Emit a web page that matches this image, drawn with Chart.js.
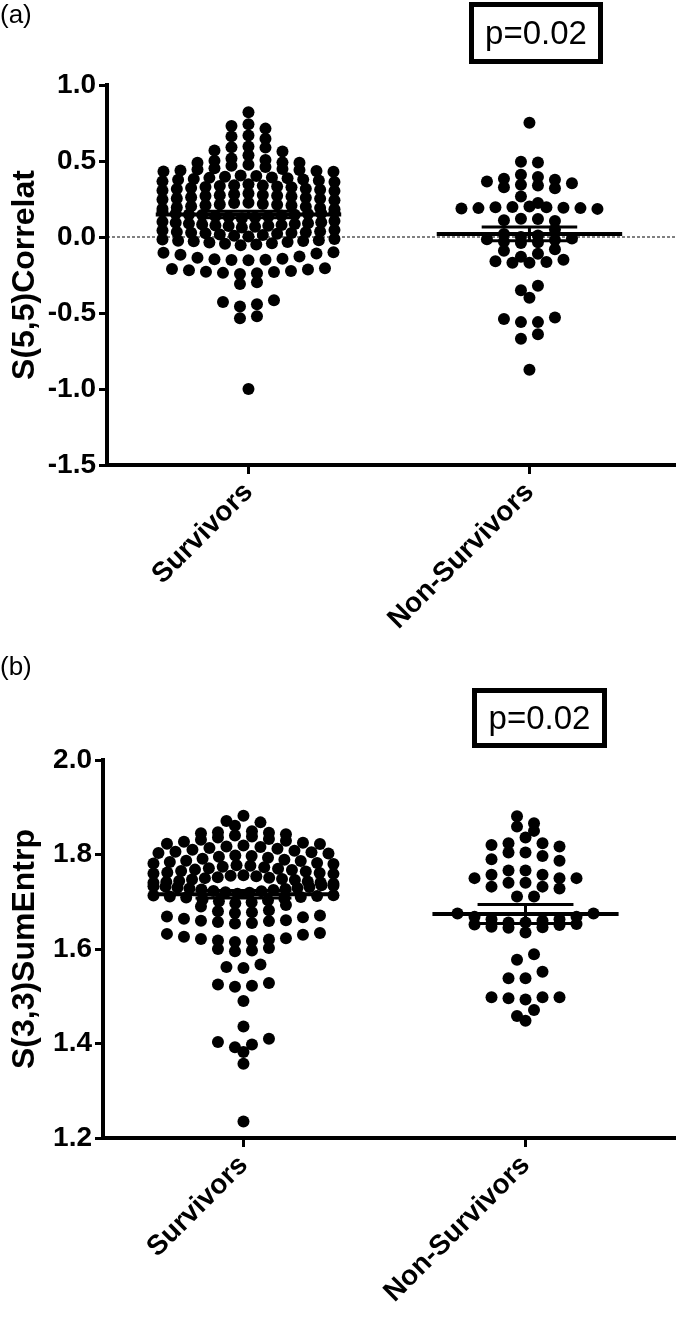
<!DOCTYPE html>
<html>
<head>
  <meta charset="UTF-8">
  <title>Survivors vs Non-Survivors</title>
  <script src="https://cdn.jsdelivr.net/npm/chart.js"></script>
  <style>
    body {
      margin: 0;
      background: #fff;
      font-family: "Liberation Sans", Arial, sans-serif;
    }
    #page {
      position: relative;
      width: 681px;
      height: 1320px;
    }
    .panel {
      position: absolute;
      left: 0;
      width: 681px;
    }
    .tag {
      position: absolute;
      left: 0;
      font-size: 26px;
      line-height: 28px;
    }
    .pbox {
      position: absolute;
      box-sizing: border-box;
      border: 5px solid #000;
      font-size: 33px;
      text-align: center;
    }
  </style>
</head>
<body>
<div id="page">
  <div class="panel" style="top:0;height:640px"><canvas id="chartA" width="681" height="640"></canvas></div>
  <div class="panel" style="top:640px;height:680px"><canvas id="chartB" width="681" height="680"></canvas></div>
  <div class="tag" style="top:0">(a)</div>
  <div class="pbox" style="left:469px;top:2px;width:134px;height:62px;line-height:52px">p=0.02</div>
  <div class="tag" style="top:652px">(b)</div>
  <div class="pbox" style="left:472px;top:688px;width:135px;height:60px;line-height:50px">p=0.02</div>
</div>

<script>
  // groups on the x axis
  const groups = ['Survivors', 'Non-Survivors'];

  // (a) S(5,5)Correlat, values
  const corrSurvivors = [
    0.82,
    0.742, 0.731, 0.713,
    0.667, 0.662, 0.646,
    0.596, 0.591, 0.588, 0.569, 0.563,
    0.538, 0.517, 0.506, 0.502, 0.491, 0.489, 0.488,
    0.476, 0.468, 0.461, 0.452, 0.447, 0.441, 0.438, 0.434, 0.431, 0.429, 0.444,
    0.404, 0.401, 0.396, 0.389, 0.387, 0.382, 0.379, 0.376, 0.371, 0.366, 0.362, 0.392,
    0.347, 0.341, 0.336, 0.333, 0.327, 0.322, 0.318, 0.316, 0.311, 0.306, 0.302, 0.329, 0.338,
    0.286, 0.281, 0.277, 0.271, 0.266, 0.262, 0.258, 0.254, 0.251, 0.246, 0.242, 0.269, 0.274,
    0.226, 0.223, 0.217, 0.212, 0.207, 0.203, 0.199, 0.194, 0.191, 0.186, 0.182, 0.209, 0.214,
    0.166, 0.162, 0.157, 0.153, 0.148, 0.144, 0.141, 0.137, 0.132, 0.128, 0.123, 0.151, 0.146, 0.134,
    0.106, 0.101, 0.097, 0.093, 0.088, 0.083, 0.079, 0.076, 0.072, 0.067, 0.063, 0.091, 0.086, 0.074,
    0.046, 0.042, 0.037, 0.033, 0.028, 0.024, 0.021, 0.017, 0.013, 0.008, 0.004, 0.031, 0.026,
    -0.013, -0.016, -0.021, -0.024, -0.028, -0.033, -0.036, -0.041, -0.045, -0.049, -0.054, -0.027,
    -0.101, -0.103, -0.109, -0.117, -0.128, -0.137, -0.143, -0.146, -0.149, -0.152, -0.153,
    -0.206, -0.211, -0.214, -0.219, -0.223, -0.228, -0.231, -0.236, -0.239, -0.244,
    -0.298, -0.309,
    -0.416, -0.428, -0.442, -0.458,
    -0.521, -0.534,
    -1.0
  ];
  const corrNonSurvivors = [
    0.751,
    0.495, 0.49,
    0.409, 0.394, 0.383, 0.376, 0.365, 0.354, 0.343, 0.339, 0.328, 0.321,
    0.267, 0.223, 0.201, 0.196,
    0.198, 0.195, 0.19, 0.188, 0.185, 0.19, 0.192,
    0.12, 0.11, 0.105, 0.118,
    0.05, 0.02,
    0.01, 0.0, -0.01, -0.02, -0.03, -0.035, -0.04, -0.015,
    -0.08, -0.09, -0.11, -0.13, -0.15, -0.16, -0.165, -0.17, -0.17,
    -0.32, -0.35, -0.40,
    -0.53, -0.54, -0.56, -0.56, -0.64, -0.67,
    -0.873
  ];
  const corrMean = [0.148, 0.02];
  const corrSem = [0.022, 0.045];
  const corrTicks = [-1.5, -1.0, -0.5, 0.0, 0.5, 1.0];

  // (b) S(3,3)SumEntrp
  const entrSurvivors = [
    1.882, 1.871, 1.868,
    1.861, 1.849, 1.847, 1.846, 1.845, 1.843,
    1.84, 1.838, 1.836, 1.833, 1.831, 1.829, 1.827, 1.825, 1.823, 1.822,
    1.819, 1.817, 1.816, 1.814, 1.812, 1.81, 1.808, 1.806, 1.805, 1.803, 1.802,
    1.798, 1.797, 1.795, 1.793, 1.791, 1.789, 1.787, 1.786, 1.784, 1.782, 1.781, 1.78,
    1.777, 1.776, 1.774, 1.773, 1.771, 1.77, 1.768, 1.767, 1.765, 1.764, 1.762, 1.761, 1.76, 1.759,
    1.756, 1.755, 1.754, 1.752, 1.751, 1.75, 1.748, 1.747, 1.746, 1.744, 1.743, 1.742, 1.741, 1.74, 1.738,
    1.735, 1.734, 1.733, 1.732, 1.731, 1.73, 1.729, 1.728, 1.727, 1.726, 1.725, 1.723, 1.722, 1.72, 1.719, 1.717,
    1.714, 1.713, 1.712, 1.711, 1.71, 1.709, 1.707, 1.705, 1.703, 1.701, 1.699, 1.697,
    1.693, 1.69, 1.682, 1.68, 1.678, 1.676,
    1.671, 1.669, 1.667, 1.664, 1.661, 1.659, 1.657, 1.655, 1.66, 1.654,
    1.634, 1.632, 1.63, 1.626, 1.623, 1.62, 1.618, 1.617, 1.615, 1.621,
    1.602, 1.6, 1.597, 1.595,
    1.567, 1.562, 1.56,
    1.528, 1.525, 1.522, 1.52,
    1.49, 1.436,
    1.41, 1.403, 1.398, 1.392,
    1.382, 1.357, 1.235
  ];
  const entrNonSurvivors = [
    1.881, 1.866, 1.859, 1.85, 1.836,
    1.824, 1.817, 1.82, 1.824,
    1.804, 1.79, 1.797, 1.804,
    1.787, 1.766,
    1.766, 1.74, 1.757, 1.732, 1.75, 1.75, 1.728, 1.75, 1.732, 1.757, 1.74,
    1.711, 1.711,
    1.675, 1.675,
    1.668, 1.663, 1.656, 1.651, 1.647, 1.635, 1.646, 1.653, 1.656, 1.663, 1.668,
    1.66, 1.652, 1.645,
    1.589, 1.577,
    1.552, 1.538, 1.538,
    1.498, 1.496, 1.493, 1.498, 1.498,
    1.471, 1.448, 1.458
  ];
  const entrMean = [1.716, 1.674];
  const entrSem = [0.008, 0.02];
  const entrTicks = [1.2, 1.4, 1.6, 1.8, 2.0];

  const FONT = '"Liberation Sans", Arial, sans-serif';
  const DOT_GAP = 17;     // px between dots in a row

  // Prism-like scatter: group values into rows, spread each row sideways,
  // the value farthest from the median sits in the middle
  function swarm(chart, values, cat, rowPx, maxHalf) {
    const ys = chart.scales.y;
    const xs = chart.scales.x;
    const unit = xs.getPixelForValue(cat + 1) - xs.getPixelForValue(cat);
    const sorted = values.slice().sort((a, b) => b - a);
    const mid = sorted[Math.floor(sorted.length / 2)];
    const rows = [];
    sorted.forEach(v => {
      const py = ys.getPixelForValue(v);
      const row = rows[rows.length - 1];
      if (row && py - row.top <= rowPx) row.vals.push(v);
      else rows.push({ top: py, vals: [v] });
    });
    const pts = [];
    rows.forEach(({ vals }) => {
      vals.sort((a, b) => Math.abs(b - mid) - Math.abs(a - mid));
      const n = vals.length;
      const step = n > 1 ? Math.min(DOT_GAP, 2 * maxHalf / (n - 1)) : 0;
      const slots = vals.map((v, i) => (i - (n - 1) / 2) * step)
        .sort((a, b) => Math.abs(a) - Math.abs(b) || a - b);
      vals.forEach((v, i) => pts.push({ x: cat + slots[i] / unit, y: v }));
    });
    return pts;
  }

  function seg(data, width) {
    return { data: data, showLine: true, borderColor: '#000', borderWidth: width, pointRadius: 0, order: 0 };
  }

  function makePanel(id, o) {
    const datasets = [];
    o.values.forEach((vals, i) => {
      datasets.push({
        data: vals.map(v => ({ x: i + 1, y: v })),
        backgroundColor: '#000', borderWidth: 0, pointRadius: 6, order: 2
      });
    });
    o.mean.forEach((m, i) => {
      const c = i + 1, s = o.sem[i];
      datasets.push(seg([{ x: c - 0.33, y: m }, { x: c + 0.33, y: m }], 4));
      datasets.push(seg([{ x: c - 0.17, y: m + s }, { x: c + 0.17, y: m + s }], 3));
      datasets.push(seg([{ x: c - 0.17, y: m - s }, { x: c + 0.17, y: m - s }], 3));
      datasets.push(seg([{ x: c, y: m - s }, { x: c, y: m + s }], 3));
    });
    if (o.zero) {
      datasets.push({
        data: [{ x: o.xMin, y: 0 }, { x: o.xMax, y: 0 }],
        showLine: true, borderColor: '#000', borderWidth: 1, borderDash: [3, 2],
        pointRadius: 0, order: 3
      });
    }

    const chart = new Chart(document.getElementById(id), {
      type: 'scatter',
      data: { datasets: datasets },
      options: {
        responsive: false,
        animation: false,
        devicePixelRatio: 1,
        layout: { padding: { top: o.top, left: 0, right: 0, bottom: 0 } },
        plugins: { legend: { display: false }, tooltip: { enabled: false } },
        scales: {
          x: {
            type: 'linear',
            min: o.xMin,
            max: o.xMax,
            afterBuildTicks: s => { s.ticks = groups.map((g, i) => ({ value: i + 1 })); },
            afterFit: s => { s.height = o.xHeight; },
            ticks: {
              autoSkip: false,
              minRotation: 45,
              maxRotation: 45,
              padding: 2,
              color: '#000',
              font: { family: FONT, size: 28, weight: 'bold' },
              callback: v => groups[v - 1]
            },
            grid: { drawOnChartArea: false, drawTicks: true, tickLength: 9, tickWidth: 3, tickColor: '#000', color: '#000' },
            border: { width: 4, color: '#000' }
          },
          y: {
            min: o.ticks[0],
            max: o.ticks[o.ticks.length - 1],
            afterBuildTicks: s => { s.ticks = o.ticks.map(v => ({ value: v })); },
            afterFit: s => { s.width = o.yWidth; },
            ticks: {
              padding: 3,
              color: '#000',
              font: { family: FONT, size: 28, weight: 'bold' },
              callback: v => v.toFixed(1)
            },
            title: {
              display: true,
              text: o.title,
              color: '#000',
              padding: { top: 6, bottom: 0 },
              font: { family: FONT, size: 32, weight: 'bold' }
            },
            grid: { drawOnChartArea: false, drawTicks: true, tickLength: 8, tickWidth: 3, tickColor: '#000', color: '#000' },
            border: { width: 4, color: '#000' }
          }
        }
      }
    });

    o.values.forEach((vals, i) => {
      chart.data.datasets[i].data = swarm(chart, vals, i + 1, o.rowPx, o.maxHalf);
    });
    chart.update('none');
    return chart;
  }

  makePanel('chartA', {
    values: [corrSurvivors, corrNonSurvivors],
    mean: corrMean, sem: corrSem, ticks: corrTicks,
    title: 'S(5,5)Correlat',
    xMin: 0.4965, xMax: 2.518,
    top: 85, yWidth: 107, xHeight: 175,
    rowPx: 8.5, maxHalf: 86, zero: true
  });

  makePanel('chartB', {
    values: [entrSurvivors, entrNonSurvivors],
    mean: entrMean, sem: entrSem, ticks: entrTicks,
    title: 'S(3,3)SumEntrp',
    xMin: 0.502, xMax: 2.53,
    top: 120, yWidth: 103, xHeight: 182,
    rowPx: 9.5, maxHalf: 90, zero: false
  });
</script>
</body>
</html>
